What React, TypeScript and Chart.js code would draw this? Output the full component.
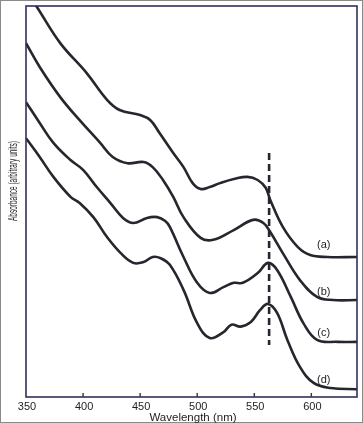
import React, { useEffect, useRef } from "react";
import { Chart, registerables } from "chart.js";
Chart.register(...registerables);

const aWavelength = [350, 359, 380, 403, 421, 432, 450, 459, 467, 479, 488, 496, 503, 511, 520, 533, 544, 553, 560, 564, 575, 588, 599, 614, 640];
const aAbsorbance = [1.038, 1.0, 0.905, 0.829, 0.76, 0.734, 0.721, 0.708, 0.675, 0.624, 0.588, 0.547, 0.532, 0.537, 0.547, 0.558, 0.563, 0.555, 0.535, 0.504, 0.435, 0.384, 0.363, 0.358, 0.358];

const bWavelength = [350, 362, 380, 397, 415, 426, 439, 453, 461, 470, 479, 488, 503, 514, 532, 549, 558, 564, 575, 590, 605, 619, 640];
const bAbsorbance = [0.905, 0.844, 0.767, 0.708, 0.65, 0.614, 0.598, 0.601, 0.588, 0.555, 0.512, 0.46, 0.407, 0.402, 0.427, 0.453, 0.445, 0.422, 0.368, 0.299, 0.256, 0.248, 0.248];

const cWavelength = [350, 362, 374, 389, 400, 412, 424, 435, 444, 456, 465, 472, 476, 488, 500, 511, 523, 532, 540, 553, 562, 570, 582, 593, 605, 623, 640];
const cAbsorbance = [0.754, 0.701, 0.65, 0.606, 0.581, 0.537, 0.496, 0.458, 0.445, 0.458, 0.46, 0.45, 0.435, 0.358, 0.292, 0.266, 0.281, 0.292, 0.292, 0.317, 0.343, 0.325, 0.256, 0.189, 0.146, 0.141, 0.141];

const dWavelength = [350, 362, 374, 389, 397, 409, 421, 433, 444, 453, 461, 468, 476, 488, 500, 511, 523, 530, 538, 547, 555, 562, 570, 579, 590, 602, 617, 640];
const dAbsorbance = [0.662, 0.614, 0.563, 0.512, 0.496, 0.46, 0.409, 0.368, 0.343, 0.345, 0.358, 0.355, 0.338, 0.274, 0.189, 0.151, 0.166, 0.185, 0.18, 0.192, 0.222, 0.238, 0.215, 0.146, 0.077, 0.036, 0.023, 0.02];

const markerWavelength = 563;
const markerAbsorbance = [0.624, 0.133];

const curveLabels = ["(a)", "(b)", "(c)", "(d)"];
const labelWavelength = 610;
const labelAbsorbance = [0.389, 0.269, 0.164, 0.043];

const tickLabels = [350, 400, 450, 500, 550, 600];
const tickMarks = [400, 450, 500, 550, 600];

const xTitle = "Wavelength (nm)";
const yTitle = "Absorbance (arbitrary units)";

const LINE = "#26262e";
const AXIS = "#30305a";

function pts(xs: number[], ys: number[]) {
  return xs.map((x, i) => ({ x, y: ys[i] }));
}

const decor = {
  id: "decor",
  afterDraw(chart: any) {
    const { ctx, chartArea: ca, scales } = chart;
    const xs = scales.x;
    const ys = scales.y;
    ctx.save();
    ctx.strokeStyle = "#8a8a8a";
    ctx.lineWidth = 1;
    ctx.strokeRect(0.5, 0.5, chart.width - 1, chart.height - 1);
    ctx.strokeStyle = AXIS;
    ctx.lineWidth = 1.6;
    ctx.strokeRect(ca.left, ca.top, ca.right - ca.left, ca.bottom - ca.top);
    ctx.lineWidth = 1.4;
    tickMarks.forEach((t) => {
      const px = xs.getPixelForValue(t);
      ctx.beginPath();
      ctx.moveTo(px, ca.bottom);
      ctx.lineTo(px, ca.bottom - 4);
      ctx.stroke();
    });
    ctx.fillStyle = "#1e1e1e";
    ctx.font = "11px 'Liberation Sans', Arial, sans-serif";
    ctx.textAlign = "center";
    ctx.textBaseline = "middle";
    tickLabels.forEach((t) => {
      ctx.fillText(String(t), xs.getPixelForValue(t) + 1, ca.bottom + 10);
    });
    ctx.font = "11.5px 'Liberation Sans', Arial, sans-serif";
    ctx.fillText(xTitle, 193, ca.bottom + 21);
    ctx.save();
    ctx.translate(14, 181);
    ctx.rotate(-Math.PI / 2);
    ctx.font = "12px 'Liberation Sans', Arial, sans-serif";
    const w = ctx.measureText(yTitle).width;
    ctx.scale(80 / w, 1);
    ctx.fillText(yTitle, 0, 0);
    ctx.restore();
    ctx.font = "11px 'Liberation Sans', Arial, sans-serif";
    curveLabels.forEach((l, i) => {
      ctx.fillText(l, xs.getPixelForValue(labelWavelength) + 1, ys.getPixelForValue(labelAbsorbance[i]));
    });
    ctx.restore();
  },
};

export default function App() {
  const ref = useRef<HTMLCanvasElement>(null);
  useEffect(() => {
    if (!ref.current) return;
    const curve = (xs: number[], ys: number[]) => ({
      data: pts(xs, ys),
      borderColor: LINE,
      borderWidth: 2.6,
      pointRadius: 0,
      fill: false,
      tension: 0.4,
    });
    const chart = new Chart(ref.current, {
      type: "line",
      data: {
        datasets: [
          curve(aWavelength, aAbsorbance),
          curve(bWavelength, bAbsorbance),
          curve(cWavelength, cAbsorbance),
          curve(dWavelength, dAbsorbance),
          {
            data: markerAbsorbance.map((y) => ({ x: markerWavelength, y })),
            borderColor: LINE,
            borderWidth: 2.6,
            borderDash: [7, 4],
            pointRadius: 0,
            fill: false,
          },
        ],
      },
      options: {
        responsive: false,
        animation: false,
        events: [],
        layout: { padding: { left: 26, right: 6, top: 6, bottom: 26 } },
        plugins: { legend: { display: false }, tooltip: { enabled: false } },
        scales: {
          x: { type: "linear", min: 350, max: 640, display: false },
          y: { type: "linear", min: 0, max: 1, display: false },
        },
      },
      plugins: [decor],
    });
    return () => chart.destroy();
  }, []);
  return (
    <div style={{ position: "fixed", left: 0, top: 0, width: 363, height: 423, background: "#fff" }}>
      <canvas ref={ref} width={363} height={423} style={{ display: "block" }} />
    </div>
  );
}
